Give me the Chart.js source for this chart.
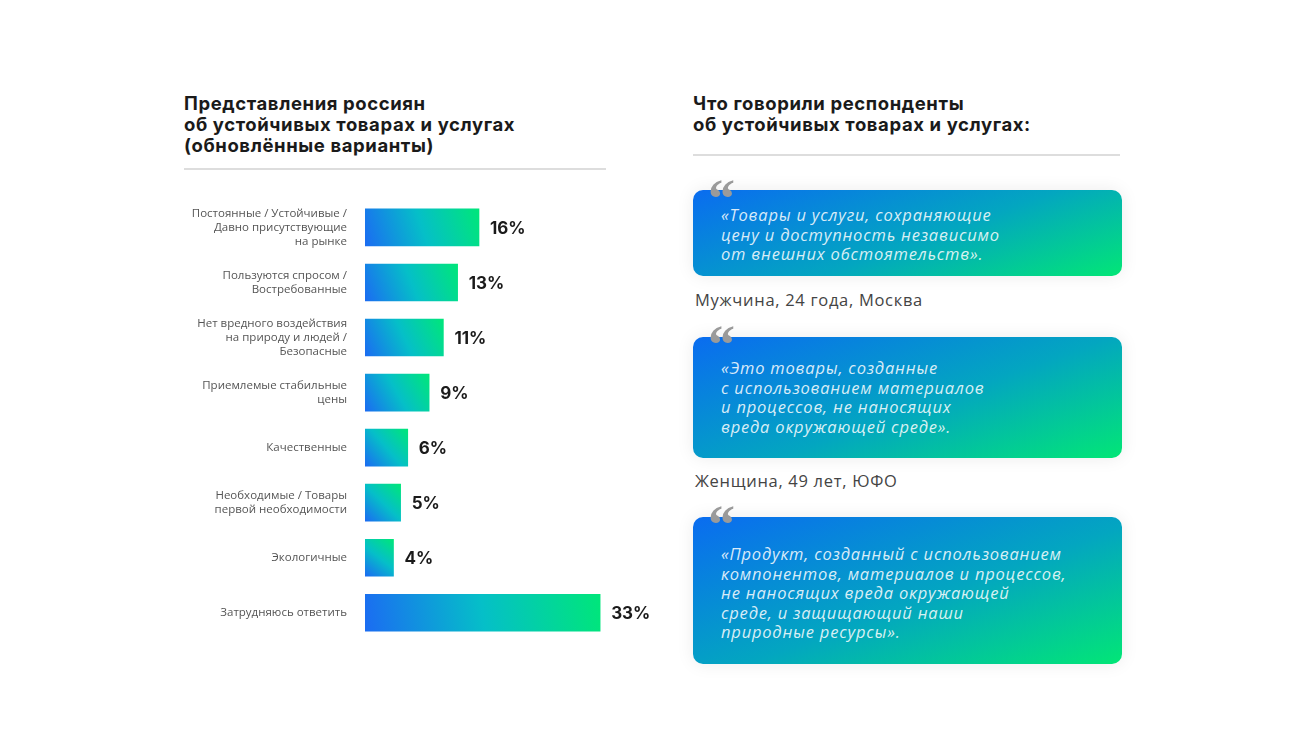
<!DOCTYPE html>
<html><head><meta charset="utf-8">
<script src="https://cdn.jsdelivr.net/npm/chart.js@4"></script>
<style>
body{margin:0;width:1300px;height:753px;background:#fff;font-family:"Open Sans",sans-serif;position:relative;overflow:hidden}
.title{position:absolute;font-family:Inter,sans-serif;font-weight:700;font-size:18.5px;line-height:21px;color:#1a1a1a;letter-spacing:0.6px}
.rule{position:absolute;height:2px;background:#ddd}
#wrap{position:absolute;left:180px;top:183px;width:470px;height:488px}
.card{position:absolute;left:693px;width:429px;border-radius:10px;background:linear-gradient(160deg,#0a6cf0 0%,#03a6c0 55%,#02e676 100%);box-shadow:0 0 18px rgba(0,0,0,0.08)}
.card p{margin:0;padding:0 0 0 28px;color:rgba(255,255,255,0.85);font-style:italic;font-size:16.5px;line-height:19.5px;letter-spacing:0.8px;font-family:"Open Sans",sans-serif}
.q{position:absolute;left:708px;font-family:Georgia,serif;font-size:54px;color:#9a9a9a;font-weight:700;line-height:1}
.who{position:absolute;left:695px;font-size:16.5px;color:#444;letter-spacing:0.7px}
</style></head><body>
<div class="title" style="left:184px;top:93px">Представления россиян<br>об устойчивых товарах и услугах<br>(обновлённые варианты)</div>
<div class="rule" style="left:184px;top:168px;width:422px"></div>
<div class="title" style="left:693px;top:93px">Что говорили респонденты<br>об устойчивых товарах и услугах:</div>
<div class="rule" style="left:693px;top:154px;width:427px"></div>

<div class="card" style="top:190px;height:86px"><p style="padding-top:15px">«Товары и услуги, сохраняющие<br>цену и доступность независимо<br>от внешних обстоятельств».</p></div>
<div class="q" style="top:172px">“</div>
<div class="who" style="top:288px">Мужчина, 24 года, Москва</div>
<div class="card" style="top:337px;height:121px"><p style="padding-top:21px">«Это товары, созданные<br>с использованием материалов<br>и процессов, не наносящих<br>вреда окружающей среде».</p></div>
<div class="q" style="top:318px">“</div>
<div class="who" style="top:469px">Женщина, 49 лет, ЮФО</div>
<div class="card" style="top:517px;height:147px"><p style="padding-top:27px">«Продукт, созданный с использованием<br>компонентов, материалов и процессов,<br>не наносящих вреда окружающей<br>среде, и защищающий наши<br>природные ресурсы».</p></div>
<div class="q" style="top:498px">“</div>

<div id="wrap"><canvas id="c"></canvas></div>
<script>
const categories = [
  ['Постоянные / Устойчивые /', 'Давно присутствующие', 'на рынке'],
  ['Пользуются спросом /', 'Востребованные'],
  ['Нет вредного воздействия', 'на природу и людей /', 'Безопасные'],
  ['Приемлемые стабильные', 'цены'],
  ['Качественные'],
  ['Необходимые / Товары', 'первой необходимости'],
  ['Экологичные'],
  ['Затрудняюсь ответить']
];
const shares = [16, 13, 11, 9, 6, 5, 4, 33];

const valueLabels = {
  id: 'valueLabels',
  afterDatasetsDraw(chart) {
    const ctx = chart.ctx;
    ctx.save();
    ctx.font = 'bold 17px Inter, sans-serif';
    ctx.fillStyle = '#1a1a1a';
    ctx.textBaseline = 'middle';
    chart.getDatasetMeta(0).data.forEach((bar, i) => {
      ctx.fillText(shares[i] + '%', bar.x + 11, bar.y + 1);
    });
    ctx.restore();
  }
};

new Chart(document.getElementById('c'), {
  type: 'bar',
  data: {
    labels: categories,
    datasets: [{
      data: shares,
      barThickness: 37,
      backgroundColor(c) {
        const ch = c.chart, sx = ch.scales.x, sy = ch.scales.y;
        if (!sx || !sy || c.dataIndex === undefined) return '#0aa';
        const x0 = sx.getPixelForValue(0), x1 = sx.getPixelForValue(shares[c.dataIndex]);
        const yc = sy.getPixelForValue(c.dataIndex);
        if (![x0, x1, yc].every(Number.isFinite)) return '#0aa';
        const g = ch.ctx.createLinearGradient(x0, yc + 18, x1, yc - 18);
        g.addColorStop(0, '#1b6cf2');
        g.addColorStop(0.5, '#05bfc8');
        g.addColorStop(1, '#00e67a');
        return g;
      }
    }]
  },
  options: {
    indexAxis: 'y',
    responsive: true,
    maintainAspectRatio: false,
    animation: false,
    layout: { padding: 0 },
    plugins: { legend: { display: false }, tooltip: { enabled: false } },
    scales: {
      x: { display: false, min: 0, max: 40 },
      y: {
        grid: { display: false },
        border: { display: false },
        afterFit(s) { s.width = 185; },
        ticks: { color: '#555', font: { size: 11.5, family: 'Open Sans', lineHeight: 1.2 }, padding: 10 }
      }
    }
  },
  plugins: [valueLabels]
});
</script>
</body></html>
